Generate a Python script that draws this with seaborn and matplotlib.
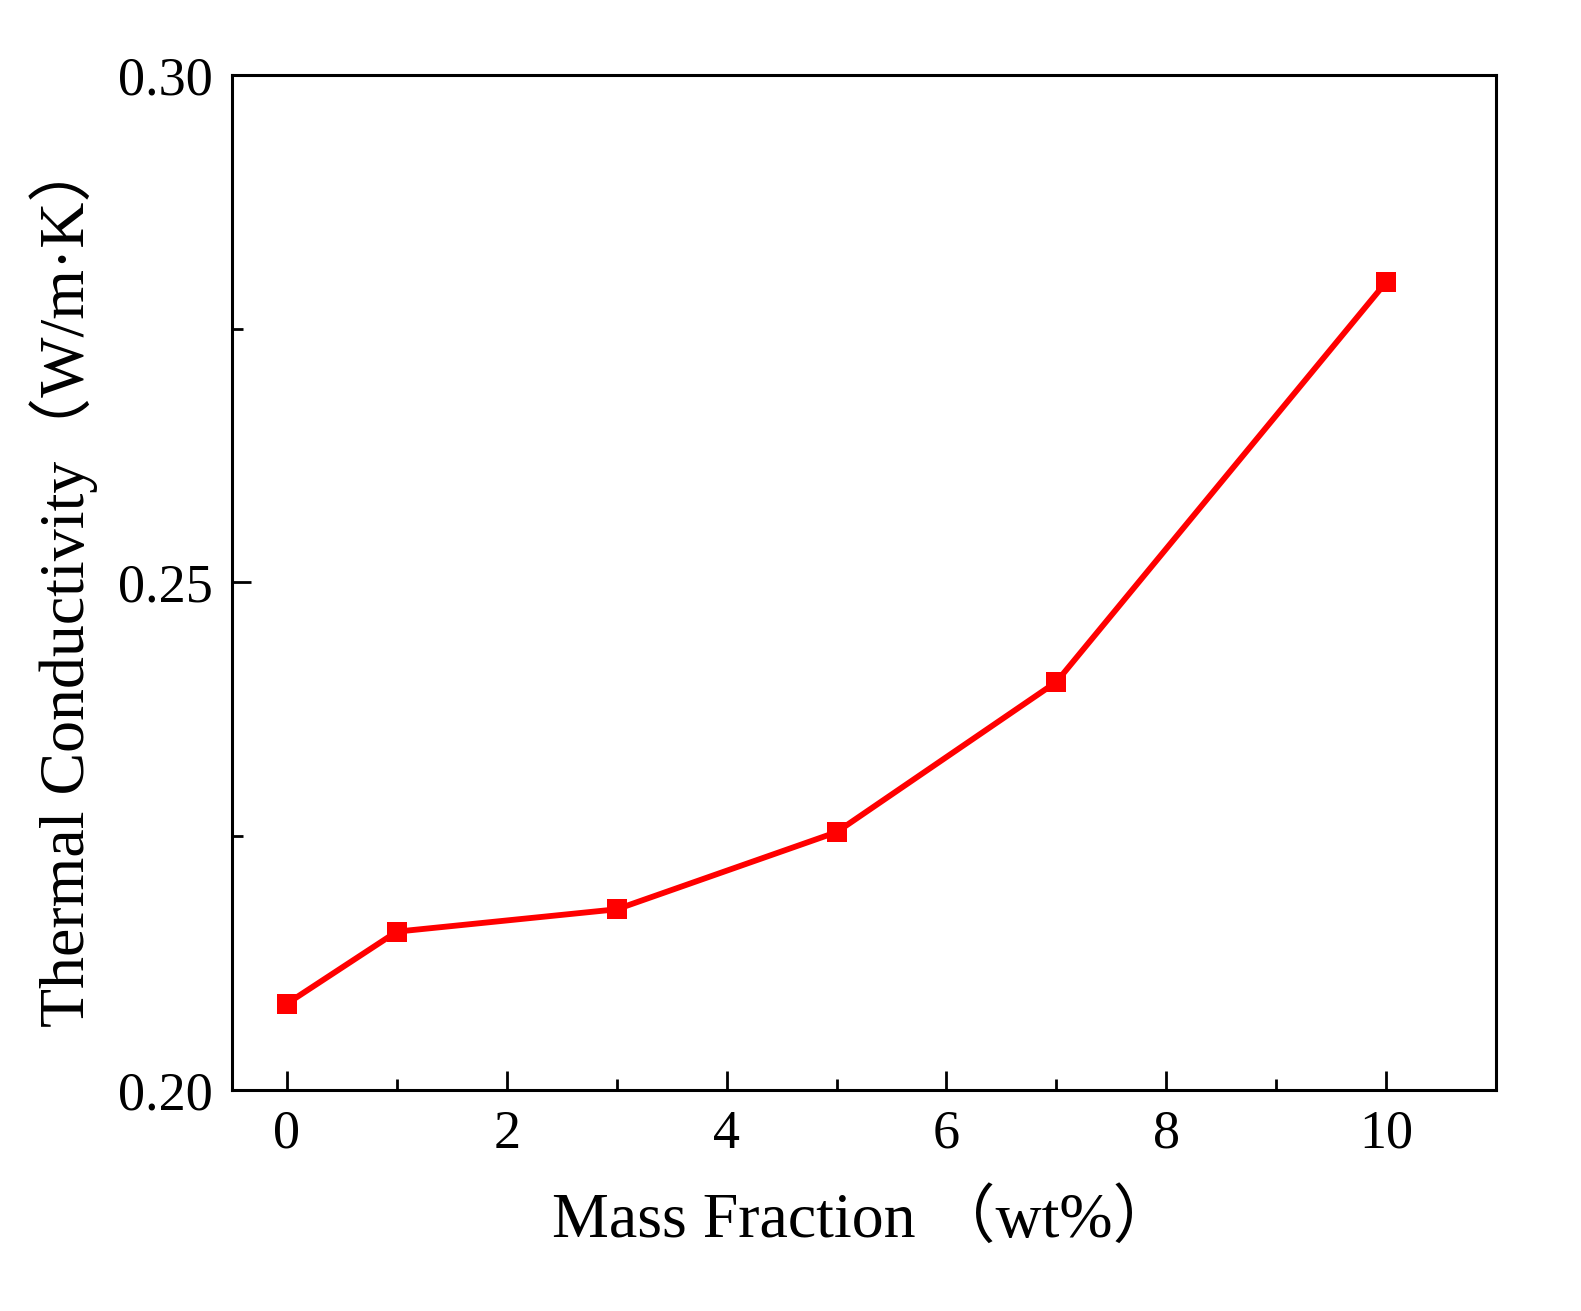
import matplotlib
matplotlib.use("Agg")
import matplotlib.pyplot as plt
import seaborn as sns
import pandas as pd
from matplotlib.ticker import MultipleLocator

# -------------------------- Data --------------------------
mass_fraction = [0, 1, 3, 5, 7, 10]
thermal_conductivity = [0.2085, 0.2156, 0.2178, 0.2254, 0.2402, 0.2796]

df = pd.DataFrame({"mass": mass_fraction, "k": thermal_conductivity})

# -------------------------- Style --------------------------
sns.set_theme(style="ticks")
plt.rcParams["font.family"] = ["Liberation Serif", "Noto Sans CJK SC"]
plt.rcParams.update({
    "text.color": "black",
    "axes.labelcolor": "black",
    "xtick.color": "black",
    "ytick.color": "black",
    "axes.edgecolor": "black",
})

fig = plt.figure(figsize=(15.81, 13.11), dpi=100)
ax = fig.add_axes([0.1467, 0.1686, 0.7996, 0.7742])

sns.lineplot(
    data=df, x="mass", y="k", ax=ax,
    color="#ff0000", linewidth=4.2,
    marker="s", markersize=15, markeredgewidth=0,
)

ax.set_xlim(-0.5, 11)
ax.set_ylim(0.20, 0.30)
ax.xaxis.set_major_locator(MultipleLocator(2))
ax.xaxis.set_minor_locator(MultipleLocator(1))
ax.yaxis.set_major_locator(MultipleLocator(0.05))
ax.yaxis.set_minor_locator(MultipleLocator(0.025))
ax.yaxis.set_major_formatter(plt.FormatStrFormatter("%.2f"))

ax.tick_params(which="major", direction="in", length=14, width=2, labelsize=39, pad=14)
ax.tick_params(which="minor", direction="in", length=8, width=2)
for s in ax.spines.values():
    s.set_linewidth(2.2)

ax.set_xlabel("Mass Fraction （wt%）", fontsize=46, labelpad=22)
ax.set_ylabel("Thermal Conductivity（W/m·K）", fontsize=46, labelpad=14)

fig.savefig("out.png", dpi=100, facecolor="white")
